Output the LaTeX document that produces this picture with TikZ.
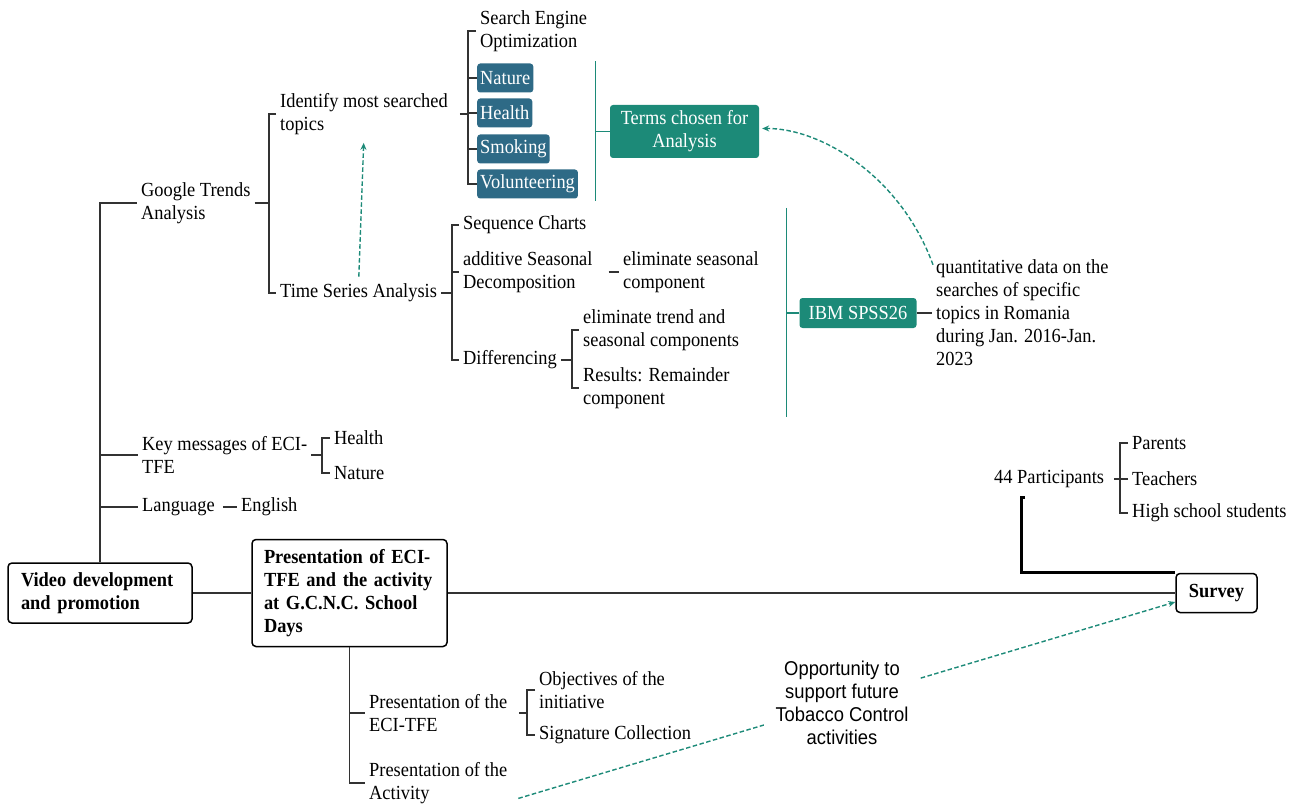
\documentclass[tikz,border=0pt]{standalone}
\usepackage{fontspec}
\setmainfont{Liberation Serif}[FakeStretch=0.92]
\newfontfamily\oppfont{Liberation Sans}[FakeStretch=0.92]
\usetikzlibrary{arrows.meta,backgrounds,calc}
\definecolor{linec}{RGB}{50,50,50}
\definecolor{bluec}{RGB}{46,106,134}
\definecolor{tealc}{RGB}{28,138,120}
\newcommand\myfs{\fontsize{20}{23}\selectfont}
\tikzset{
  txt/.style={inner xsep=4pt, inner ysep=0pt, anchor=west, align=left, font=\myfs},
  ln/.style={draw=linec, line width=1.3pt},
  bbox/.style={fill=bluec, text=white, rounded corners=3pt, anchor=west, inner xsep=3pt, inner ysep=0pt, minimum height=29pt, font=\myfs},
  tbox/.style={fill=tealc, text=white, rounded corners=3pt, align=center, font=\myfs, inner sep=0pt},
  mbox/.style={draw=black, line width=1.5pt, rounded corners=4pt, font=\myfs\bfseries, align=left},
  tln/.style={draw=tealc, line width=1.3pt},
  darr/.style={draw=tealc, line width=1.4pt, dash pattern=on 4.5pt off 2.5pt, -{Stealth[length=7pt,width=6pt]}},
  thk/.style={draw=black, line width=3pt},
}
\begin{document}
\begin{tikzpicture}[x=1pt,y=-1pt]
\useasboundingbox (0,0) rectangle (1298,805);

% main boxes
\node[mbox, minimum width=184pt, minimum height=60pt, text width=158pt] (vdp) at (100,593) {Video development\\and promotion};
\node[mbox, minimum width=195pt, minimum height=107pt, text width=171pt] (pres) at (349.5,593) {Presentation of ECI-\\TFE and the activity\\at G.C.N.C. School\\Days};
\node[mbox, align=center, minimum width=81pt, minimum height=39pt] (survey) at (1216.5,593) {Survey};

% google trends branch
\node[txt] (gta) at (137,203) {Google Trends\\Analysis};
\node[txt] (ident) at (276,114) {Identify most searched\\topics};
\node[txt] (tsa) at (276,293) {Time Series Analysis};
\node[txt] (seo) at (476,31) {Search Engine\\Optimization};
\node[bbox] (nature) at (477,78) {Nature};
\node[bbox] (health) at (477,113) {Health};
\node[bbox] (smoking) at (477,149) {Smoking};
\node[bbox] (volunteering) at (477,184) {Volunteering};
\node[tbox, minimum width=149pt, minimum height=53pt] (terms) at (684.5,131.5) {Terms chosen for\\Analysis};

\node[txt] (seq) at (459,225) {Sequence Charts};
\node[txt] (asd) at (459,272) {additive Seasonal\\Decomposition};
\node[txt] (esc) at (619,272) {eliminate seasonal\\component};
\node[txt] (diff) at (459,360) {Differencing};
\node[txt] (etsc) at (579,330) {eliminate trend and\\seasonal components};
\node[txt] (rrc) at (579,388) {Results: Remainder\\component};
\node[tbox, minimum width=117pt, minimum height=30pt] (ibm) at (858,313) {IBM SPSS26};
\node[txt] (quant) at (932,313) {quantitative data on the\\searches of specific\\topics in Romania\\during Jan. 2016-Jan.\\2023};

% key messages, language
\node[txt] (key) at (138,455) {Key messages of ECI-\\TFE};
\node[txt] (khealth) at (330,438) {Health};
\node[txt] (knature) at (330,473) {Nature};
\node[txt] (lang) at (138,507) {Language};
\node[txt] (eng) at (237,507) {English};

% presentation branch
\node[txt] (peci) at (365,713) {Presentation of the\\ECI-TFE};
\node[txt] (pact) at (365,783) {Presentation of the\\Activity};
\node[txt] (obj) at (535,690) {Objectives of the\\initiative};
\node[txt] (sig) at (535,735) {Signature Collection};

% participants
\node[txt] (part) at (990,479) {44 Participants};
\node[txt] (parents) at (1128,443) {Parents};
\node[txt] (teachers) at (1128,479) {Teachers};
\node[txt] (hss) at (1128,513) {High school students};

\node[font=\myfs\oppfont, align=center, fill=white, inner xsep=12pt, inner ysep=2pt] (opp) at (842,703) {Opportunity to\\support future\\Tobacco Control\\activities};

% spine coordinates
\coordinate (s1) at (269,203);
\coordinate (s2) at (468,114);
\coordinate (s3) at (452,293);
\coordinate (s4) at (572,360);
\coordinate (s5) at (322,455);
\coordinate (s6) at (527,713);
\coordinate (s7) at (1120,479);
\coordinate (p0) at (1021,497);

% main spine
\draw[ln] (vdp.north) |- (gta.west);
\draw[ln] (vdp.north |- key.west) -- (key.west);
\draw[ln] (vdp.north |- lang.west) -- (lang.west);

\draw[ln] (gta.east) -- (s1);
\draw[ln] (ident.west) -| (s1) |- (tsa.west);

\draw[ln, shorten <=8pt] (ident.east) -- (s2);
\draw[ln] (seo.west) -| (s2) |- (volunteering.west);
\draw[ln] (s2 |- nature.west) -- (nature.west);
\draw[ln] (s2 |- health.west) -- (health.west);
\draw[ln] (s2 |- smoking.west) -- (smoking.west);

\draw[ln] (tsa.east) -- (s3);
\draw[ln] (seq.west) -| (s3) |- (diff.west);
\draw[ln] (s3 |- asd.west) -- (asd.west);
\draw[ln, shorten <=12pt] (asd.east) -- (esc.west);
\draw[ln] (diff.east) -- (s4);
\draw[ln] (etsc.west) -| (s4) |- (rrc.west);

% teal brackets
\draw[tln] (terms.west) -- ([xshift=-14pt]terms.west);
\draw[tln] ([xshift=-14pt,yshift=70pt]terms.west) -- ([xshift=-14pt,yshift=-70pt]terms.west);
\draw[tln] (ibm.west) -- ([xshift=-12.5pt]ibm.west);
\draw[tln] ([xshift=-12.5pt,yshift=105pt]ibm.west) -- ([xshift=-12.5pt,yshift=-104pt]ibm.west);
\draw[ln] (ibm.east) -- (quant.west);

\draw[ln] (key.east) -- (s5);
\draw[ln] (khealth.west) -| (s5) |- (knature.west);
\draw[ln, shorten <=4pt] (lang.east) -- (eng.west);

\draw[ln] (vdp.east) -- (pres.west);
\draw[ln] (pres.east) -- (survey.west);

\draw[ln] (pres.south) |- (peci.west);
\draw[ln] (pres.south) |- (pact.west);
\draw[ln, shorten <=8pt] (peci.east) -- (s6);
\draw[ln] (obj.west) -| (s6) |- (sig.west);

\draw[ln, shorten <=6pt] (part.east) -- (s7);
\draw[ln] (parents.west) -| (s7) |- (hss.west);
\draw[ln] (teachers.west) -- (s7);

\draw[thk] ([xshift=4pt]p0) -- (p0) |- (survey.north west);

% dashed arrows
\draw[darr, shorten <=7pt, shorten >=8pt] (tsa.north) -- (ident.south);
\draw[darr] ([xshift=1pt,yshift=-5pt]quant.north west) .. controls (900,175) and (820,128) .. ([xshift=3pt,yshift=3pt]terms.east);
\begin{scope}[on background layer]
\draw[darr] ([xshift=7pt,yshift=5.5pt]pact.south east) -- ([yshift=-9pt]survey.west);
\end{scope}
\end{tikzpicture}
\end{document}
